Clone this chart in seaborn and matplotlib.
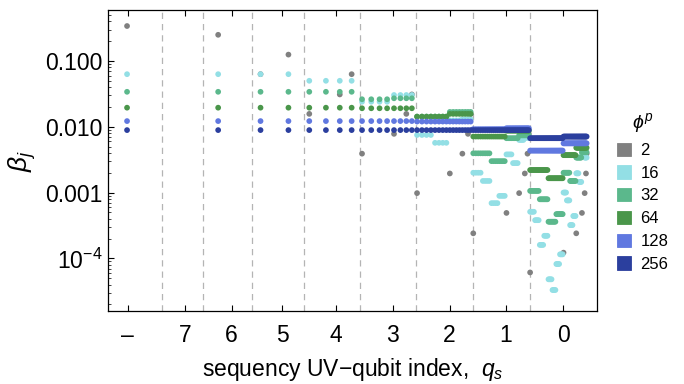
import numpy as np
import pandas as pd
import matplotlib
matplotlib.use("Agg")
import matplotlib.pyplot as plt
from matplotlib.patches import Patch
from matplotlib.ticker import FixedLocator, LogLocator, NullFormatter, NullLocator
import seaborn as sns

# legend levels phi^p and their colours
PHI_LEVELS = ["2", "16", "32", "64", "128", "256"]
PHI_COLORS = ["#808080", "#93dfe5", "#5bb88c", "#4a964a", "#6078e0", "#2b3f9e"]

# phi^p = 2: only a few sequency indices j carry a nonzero beta
GRAY_J = [0, 1, 2, 3, 4, 6, 7, 8, 12, 14, 15, 16, 24, 28, 30, 31,
          32, 48, 56, 60, 62, 63, 64, 96, 112, 120, 124, 126, 127]
GRAY_BETA = [0.34, 0.25, 0.063, 0.125, 0.0157, 0.031, 0.063, 0.0039, 0.0078, 0.0157,
             0.031, 0.00098, 0.00195, 0.0039, 0.0078, 0.0157, 0.00024, 0.00049,
             0.00098, 0.00195, 0.0039, 0.0078, 6.1e-5, 0.000122, 0.00024, 0.00049,
             0.00098, 0.00195, 0.0039]

# other series: beta is flat over runs of j -> (first j, last j, beta)
RUNS_16 = [(0, 3, 0.063), (4, 7, 0.050), (8, 11, 0.024), (12, 15, 0.0304),
           (16, 19, 0.0075), (20, 23, 0.0057), (24, 27, 0.0125), (28, 31, 0.013),
           (32, 35, 0.0020), (36, 39, 0.0015), (40, 43, 0.00069), (44, 47, 0.00089),
           (48, 51, 0.0038), (52, 55, 0.0028), (56, 59, 0.0063), (60, 63, 0.0068),
           (64, 67, 0.00051), (68, 71, 0.00038), (72, 75, 0.00016), (76, 79, 0.00022),
           (80, 83, 4.8e-5), (84, 87, 3.3e-5), (88, 91, 8.2e-5), (92, 95, 0.000115),
           (96, 99, 0.0010), (100, 103, 0.00076), (104, 107, 0.00032), (108, 111, 0.00044),
           (112, 115, 0.00196), (116, 119, 0.00145), (120, 123, 0.0040), (124, 127, 0.0034)]
RUNS_32 = [(0, 7, 0.034), (8, 11, 0.0262), (12, 15, 0.0271), (16, 23, 0.0143),
           (24, 31, 0.0168), (32, 39, 0.00395), (40, 47, 0.0030), (48, 55, 0.0067),
           (56, 63, 0.0074), (64, 71, 0.00106), (72, 79, 0.00079), (80, 87, 0.00036),
           (88, 95, 0.00047), (96, 103, 0.0020), (104, 111, 0.0015), (112, 119, 0.0034),
           (120, 127, 0.0041)]
RUNS_64 = [(0, 7, 0.0195), (8, 15, 0.0191), (16, 23, 0.01425), (24, 31, 0.0157),
           (32, 47, 0.0071), (48, 63, 0.0087), (64, 79, 0.0022), (80, 95, 0.00165),
           (96, 111, 0.0037), (112, 127, 0.0048)]
RUNS_128 = [(0, 15, 0.0122), (16, 31, 0.0120), (32, 47, 0.0092), (48, 63, 0.0095),
            (64, 95, 0.00434), (96, 127, 0.0056)]
RUNS_256 = [(0, 31, 0.0089), (32, 63, 0.0089), (64, 95, 0.0067), (96, 127, 0.0071)]

# x axis: qubit index blocks, positions given in log2(j + 1/2)
QS_LABELS = ["\u2013", "7", "6", "5", "4", "3", "2", "1", "0"]
QS_TICK_POS = [-0.99, 0.005, 0.82, 1.70, 2.63, 3.62, 4.61, 5.59, 6.59]
QS_BOUNDS = [-0.40, 0.324, 1.177, 2.082, 3.051, 4.026, 5.013, 6.01]


def fwd(j):
    return np.log2(np.asarray(j, dtype=float) + 0.5)


def inv(u):
    return 2.0 ** np.asarray(u, dtype=float) - 0.5


def runs_to_frame(runs, phi):
    rows = []
    for j0, j1, beta in runs:
        for j in range(j0, j1 + 1):
            rows.append({"j": j, "beta": beta, "phi": phi})
    return pd.DataFrame(rows)


frames = [pd.DataFrame({"j": GRAY_J, "beta": GRAY_BETA, "phi": "2"})]
for phi, runs in zip(PHI_LEVELS[1:], [RUNS_16, RUNS_32, RUNS_64, RUNS_128, RUNS_256]):
    frames.append(runs_to_frame(runs, phi))
df = pd.concat(frames, ignore_index=True)

sns.set_theme(style="ticks")
plt.rcParams["font.family"] = ["Liberation Sans", "DejaVu Sans"]
plt.rcParams["mathtext.fontset"] = "custom"
plt.rcParams["mathtext.rm"] = "Liberation Sans"
plt.rcParams["mathtext.it"] = "Liberation Sans:italic"
plt.rcParams["mathtext.fallback"] = "stixsans"
plt.rcParams["text.color"] = "black"
plt.rcParams["axes.labelcolor"] = "black"

fig = plt.figure(figsize=(6.84, 3.84), dpi=100)
ax = fig.add_axes([0.158, 0.190, 0.715, 0.784])

palette = dict(zip(PHI_LEVELS, PHI_COLORS))
sns.scatterplot(data=df, x="j", y="beta", hue="phi", hue_order=PHI_LEVELS,
                palette=palette, s=17, linewidth=0, legend=False, ax=ax, zorder=3)

ax.set_xscale("function", functions=(fwd, inv))
ax.set_yscale("log")
ax.set_xlim(inv(-1.33), inv(7.177))
ax.set_ylim(1.58e-5, 0.596)

for u in QS_BOUNDS:
    ax.axvline(inv(u), color="#b4b4b4", lw=0.9, ls=(0, (5, 4)), zorder=1)

ax.xaxis.set_major_locator(FixedLocator(inv(QS_TICK_POS)))
ax.xaxis.set_minor_locator(NullLocator())
ax.set_xticklabels(QS_LABELS)

ax.set_yticks([1e-4, 1e-3, 1e-2, 1e-1])
ax.set_yticklabels([r"$10^{-4}$", "0.001", "0.010", "0.100"])
ax.yaxis.set_minor_locator(LogLocator(base=10, subs=np.arange(2, 10)))
ax.yaxis.set_minor_formatter(NullFormatter())

ax.tick_params(axis="both", which="major", direction="in", length=4, width=0.8,
               labelsize=16.5, top=True, right=False, colors="black")
ax.tick_params(axis="both", which="minor", direction="in", length=2, width=0.6,
               right=False)
ax.tick_params(axis="x", pad=9)
ax.tick_params(axis="y", pad=4)
for sp in ax.spines.values():
    sp.set_visible(True)
    sp.set_linewidth(0.9)
    sp.set_color("black")

ax.set_xlabel("sequency UV\u2212qubit index,  $q_s$", fontsize=16.5, labelpad=7)
ax.set_ylabel(r"$\beta_j$", fontsize=19, labelpad=5)

handles = [Patch(facecolor=c, edgecolor=c, lw=0.6) for c in PHI_COLORS]
fig.legend(handles, PHI_LEVELS, title=r"$\phi^p$", loc="upper left",
           bbox_to_anchor=(0.890, 0.732), frameon=False, fontsize=12,
           title_fontsize=14, handlelength=0.85, handleheight=0.85,
           handletextpad=0.55, labelspacing=0.44, borderpad=0.0)

fig.savefig("out.png", dpi=100)
